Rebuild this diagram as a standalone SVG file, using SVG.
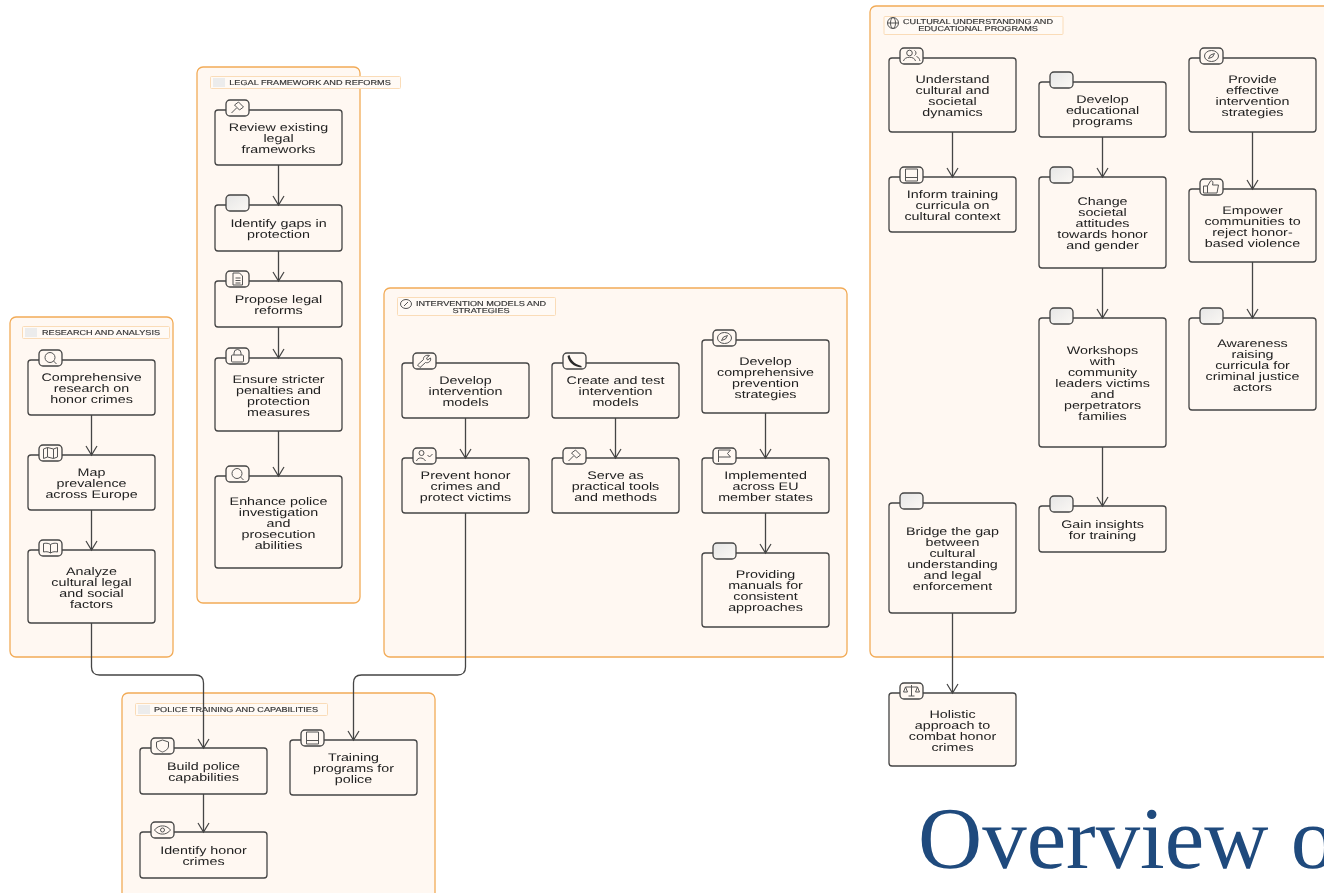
<svg xmlns="http://www.w3.org/2000/svg" width="1324" height="893" viewBox="0 0 1324 893">
<style>
text{text-rendering:geometricPrecision}
.panel{fill:#fff8f2;stroke:#f2ab57;stroke-width:1.3}
.lab{fill:#fffaf5;stroke:#fadcb8;stroke-width:1}
.box{fill:#fff8f2;stroke:#444;stroke-width:1.3}
.tab{fill:#fff8f2;stroke:#444;stroke-width:1.3}
.blank{fill:url(#g);stroke:#444;stroke-width:1.3}
.i{fill:none;stroke:#555;stroke-width:1}
.t{font-family:"Liberation Sans",Arial,sans-serif;font-size:11px;fill:#222;text-anchor:middle}
.l{font-family:"Liberation Sans",Arial,sans-serif;font-size:7.2px;fill:#333;text-anchor:middle;stroke:#333;stroke-width:.15}
.c{fill:none;stroke:#444;stroke-width:1.3}
.title{font-family:"Liberation Serif","Times New Roman",serif;font-size:88px;fill:#1f4a7d}
</style>
<defs>
<filter id="soft" x="0" y="0" width="100%" height="100%" filterUnits="userSpaceOnUse"><feGaussianBlur stdDeviation="0.35"/></filter>
<linearGradient id="g" x1="0" y1="0" x2="1" y2="1"><stop offset="0" stop-color="#e6e6e6"/><stop offset="1" stop-color="#fbf8f4"/></linearGradient>
<marker id="v" markerWidth="14" markerHeight="14" refX="12" refY="7" orient="auto" markerUnits="userSpaceOnUse" viewBox="0 0 14 14"><path d="M3 1.500 L12 7 L3 12.500" fill="none" stroke="#444" stroke-width="1.2"/></marker>
<g id="tab"><rect class="tab" x="-11.500" y="-8" width="23" height="16" rx="4"/></g>
<g id="blank"><rect class="blank" x="-11.500" y="-8" width="23" height="16" rx="4"/></g>
<g id="search"><use href="#tab"/><circle class="i" cx="-0.500" cy="-0.500" r="5"/><path class="i" d="M3 3L6 6"/></g>
<g id="map"><use href="#tab"/><path class="i" d="M-7-4L-3-5.500L3-4L7-5.500V4L3 5.500L-3 4L-7 5.500ZM-3-5.500V4M3-4V5.500"/></g>
<g id="bookopen"><use href="#tab"/><path class="i" d="M0-3.500C-2-5-5-5-7-4.500V4C-5 3.500-2 3.500 0 5C2 3.500 5 3.500 7 4V-4.500C5-5 2-5 0-3.500V5"/></g>
<g id="gavel"><use href="#tab"/><path class="i" d="M-6 5L-1 0M-3-3L1-6L6-1L2 2Z"/></g>
<g id="file"><use href="#tab"/><path class="i" d="M-4.500-6H2L5-3V6H-4.500ZM-2-1H3M-2 1.500H3M-2 4H3"/></g>
<g id="lock"><use href="#tab"/><rect class="i" x="-6" y="-1" width="12" height="7" rx="1"/><path class="i" d="M-3.500-1V-3A3.500 3.500 0 0 1 3.500-3V-1"/></g>
<g id="wrench"><use href="#tab"/><path class="i" d="M-7 4L-1-1.500C-1.500-4 1-6.500 5-5.500L2-3L3-1L6-3C7 0 4 2.500 1 1.500L-4.500 6.500Z"/></g>
<g id="phone"><use href="#tab"/><path d="M-5-6C-4-2-1 3 7 5V6.500C-1 6-6 1-7-5Z" fill="#2a2a2a"/></g>
<g id="compass"><use href="#tab"/><ellipse class="i" cx="0" cy="0" rx="7" ry="5.500"/><path class="i" d="M3-2.500L1 1L-3 2.500L-1-1Z"/></g>
<g id="usercheck"><use href="#tab"/><circle class="i" cx="-3" cy="-3" r="2.500"/><path class="i" d="M-8 5C-7 1-1 1 1 5M3-1L5 1L8-2"/></g>
<g id="flag"><use href="#tab"/><path class="i" d="M-6 6V-6H6L3-2.500L6 1H-6"/></g>
<g id="shield"><use href="#tab"/><path class="i" d="M0-6L6-4V0C6 3 3 5 0 6C-3 5-6 3-6 0V-4Z"/></g>
<g id="book"><use href="#tab"/><path class="i" d="M-6-6H6V6H-6ZM-6 2.500H6"/></g>
<g id="eye"><use href="#tab"/><path class="i" d="M-8 0C-4-5.500 4-5.500 8 0C4 5.500-4 5.500-8 0Z"/><circle class="i" cx="0" cy="0" r="2"/></g>
<g id="users"><use href="#tab"/><circle class="i" cx="-2" cy="-3" r="2.800"/><path class="i" d="M-8 5C-7 0 3 0 4 5M3-5.500A2.800 2.800 0 0 1 3-.5M5 .5C7 1 8 3 8.500 5"/></g>
<g id="thumb"><use href="#tab"/><path class="i" d="M-8-1H-4V6H-8ZM-4-1L-1-6C1-7 2-5 1-2H7L5.500 6H-4"/></g>
<g id="scales"><use href="#tab"/><path class="i" d="M0-6V5M-3 5H3M-6-4H6M-6-4L-8 1H-4ZM6-4L4 1H8Z"/></g>
<g id="globe"><circle class="i" cx="0" cy="0" r="5.500"/><ellipse class="i" cx="0" cy="0" rx="2.500" ry="5.500"/><path class="i" d="M-5.500 0H5.500"/></g>
<g id="sign"><ellipse class="i" cx="0" cy="0" rx="5.500" ry="4.500"/><path class="i" d="M-2 2L2-2"/></g>
</defs>
<g filter="url(#soft)">
<g id="panels">
<g id="group-research"><rect class="panel" x="10" y="317" width="163" height="340" rx="6"/><rect class="lab" x="22.500" y="326.500" width="147" height="12" rx="1"/><rect x="25" y="328" width="12" height="9" fill="#ececec"/><text class="l" transform="translate(101 335.200) scale(1.27 1)">RESEARCH AND ANALYSIS</text></g>
<g id="group-legal"><rect class="panel" x="197" y="67" width="163" height="536" rx="6"/><rect class="lab" x="210.500" y="76.500" width="190" height="12" rx="1"/><rect x="213" y="78" width="12" height="9" fill="#ececec"/><text class="l" transform="translate(310 85.200) scale(1.27 1)">LEGAL FRAMEWORK AND REFORMS</text></g>
<g id="group-intervention"><rect class="panel" x="384" y="288" width="463" height="369" rx="6"/><rect class="lab" x="397.500" y="297.500" width="158" height="18" rx="1"/><use href="#sign" x="406" y="304"/><text class="l" transform="translate(481 306.200) scale(1.27 1)"><tspan x="0">INTERVENTION MODELS AND</tspan><tspan x="0" dy="7.200">STRATEGIES</tspan></text></g>
<g id="group-police"><rect class="panel" x="122" y="693" width="313" height="210" rx="6"/><rect class="lab" x="135.500" y="703.500" width="192" height="12" rx="1"/><rect x="138" y="705" width="12" height="9" fill="#ececec"/><text class="l" transform="translate(236 712.200) scale(1.27 1)">POLICE TRAINING AND CAPABILITIES</text></g>
<g id="group-cultural"><rect class="panel" x="870" y="6" width="470" height="651" rx="6"/><rect class="lab" x="884" y="16.500" width="179" height="18" rx="1"/><use href="#globe" x="893" y="23"/><text class="l" transform="translate(978 24.200) scale(1.27 1)"><tspan x="0">CULTURAL UNDERSTANDING AND</tspan><tspan x="0" dy="7.200">EDUCATIONAL PROGRAMS</tspan></text></g>
</g>

<g id="nodes">
<g id="n1"><rect class="box" x="28" y="360" width="127" height="55" rx="3"/><use href="#search" x="50.500" y="358"/><text class="t" transform="translate(91.500 381) scale(1.3 1)"><tspan x="0">Comprehensive</tspan><tspan x="0" dy="11">research on</tspan><tspan x="0" dy="11">honor crimes</tspan></text></g>
<g id="n2"><rect class="box" x="28" y="455" width="127" height="55" rx="3"/><use href="#map" x="50.500" y="453"/><text class="t" transform="translate(91.500 476) scale(1.3 1)"><tspan x="0">Map</tspan><tspan x="0" dy="11">prevalence</tspan><tspan x="0" dy="11">across Europe</tspan></text></g>
<g id="n3"><rect class="box" x="28" y="550" width="127" height="73" rx="3"/><use href="#bookopen" x="50.500" y="548"/><text class="t" transform="translate(91.500 574.500) scale(1.3 1)"><tspan x="0">Analyze</tspan><tspan x="0" dy="11">cultural legal</tspan><tspan x="0" dy="11">and social</tspan><tspan x="0" dy="11">factors</tspan></text></g>

<g id="n4"><rect class="box" x="215" y="110" width="127" height="55" rx="3"/><use href="#gavel" x="237.500" y="108"/><text class="t" transform="translate(278.500 131) scale(1.3 1)"><tspan x="0">Review existing</tspan><tspan x="0" dy="11">legal</tspan><tspan x="0" dy="11">frameworks</tspan></text></g>
<g id="n5"><rect class="box" x="215" y="205" width="127" height="46" rx="3"/><use href="#blank" x="237.500" y="203"/><text class="t" transform="translate(278.500 227) scale(1.3 1)"><tspan x="0">Identify gaps in</tspan><tspan x="0" dy="11">protection</tspan></text></g>
<g id="n6"><rect class="box" x="215" y="281" width="127" height="46" rx="3"/><use href="#file" x="237.500" y="279"/><text class="t" transform="translate(278.500 303) scale(1.3 1)"><tspan x="0">Propose legal</tspan><tspan x="0" dy="11">reforms</tspan></text></g>
<g id="n7"><rect class="box" x="215" y="358" width="127" height="73" rx="3"/><use href="#lock" x="237.500" y="356"/><text class="t" transform="translate(278.500 382.500) scale(1.3 1)"><tspan x="0">Ensure stricter</tspan><tspan x="0" dy="11">penalties and</tspan><tspan x="0" dy="11">protection</tspan><tspan x="0" dy="11">measures</tspan></text></g>
<g id="n8"><rect class="box" x="215" y="476" width="127" height="92" rx="3"/><use href="#search" x="237.500" y="474"/><text class="t" transform="translate(278.500 504.500) scale(1.3 1)"><tspan x="0">Enhance police</tspan><tspan x="0" dy="11">investigation</tspan><tspan x="0" dy="11">and</tspan><tspan x="0" dy="11">prosecution</tspan><tspan x="0" dy="11">abilities</tspan></text></g>

<g id="n9"><rect class="box" x="402" y="363" width="127" height="55" rx="3"/><use href="#wrench" x="424.500" y="361"/><text class="t" transform="translate(465.500 384) scale(1.3 1)"><tspan x="0">Develop</tspan><tspan x="0" dy="11">intervention</tspan><tspan x="0" dy="11">models</tspan></text></g>
<g id="n10"><rect class="box" x="552" y="363" width="127" height="55" rx="3"/><use href="#phone" x="574.500" y="361"/><text class="t" transform="translate(615.500 384) scale(1.3 1)"><tspan x="0">Create and test</tspan><tspan x="0" dy="11">intervention</tspan><tspan x="0" dy="11">models</tspan></text></g>
<g id="n11"><rect class="box" x="702" y="340" width="127" height="73" rx="3"/><use href="#compass" x="724.500" y="338"/><text class="t" transform="translate(765.500 364.500) scale(1.3 1)"><tspan x="0">Develop</tspan><tspan x="0" dy="11">comprehensive</tspan><tspan x="0" dy="11">prevention</tspan><tspan x="0" dy="11">strategies</tspan></text></g>
<g id="n12"><rect class="box" x="402" y="458" width="127" height="55" rx="3"/><use href="#usercheck" x="424.500" y="456"/><text class="t" transform="translate(465.500 479) scale(1.3 1)"><tspan x="0">Prevent honor</tspan><tspan x="0" dy="11">crimes and</tspan><tspan x="0" dy="11">protect victims</tspan></text></g>
<g id="n13"><rect class="box" x="552" y="458" width="127" height="55" rx="3"/><use href="#gavel" x="574.500" y="456"/><text class="t" transform="translate(615.500 479) scale(1.3 1)"><tspan x="0">Serve as</tspan><tspan x="0" dy="11">practical tools</tspan><tspan x="0" dy="11">and methods</tspan></text></g>
<g id="n14"><rect class="box" x="702" y="458" width="127" height="55" rx="3"/><use href="#flag" x="724.500" y="456"/><text class="t" transform="translate(765.500 479) scale(1.3 1)"><tspan x="0">Implemented</tspan><tspan x="0" dy="11">across EU</tspan><tspan x="0" dy="11">member states</tspan></text></g>
<g id="n15"><rect class="box" x="702" y="553" width="127" height="74" rx="3"/><use href="#blank" x="724.500" y="551"/><text class="t" transform="translate(765.500 578) scale(1.3 1)"><tspan x="0">Providing</tspan><tspan x="0" dy="11">manuals for</tspan><tspan x="0" dy="11">consistent</tspan><tspan x="0" dy="11">approaches</tspan></text></g>

<g id="n16"><rect class="box" x="140" y="748" width="127" height="46" rx="3"/><use href="#shield" x="162.500" y="746"/><text class="t" transform="translate(203.500 770) scale(1.3 1)"><tspan x="0">Build police</tspan><tspan x="0" dy="11">capabilities</tspan></text></g>
<g id="n17"><rect class="box" x="290" y="740" width="127" height="55" rx="3"/><use href="#book" x="312.500" y="738"/><text class="t" transform="translate(353.500 761) scale(1.3 1)"><tspan x="0">Training</tspan><tspan x="0" dy="11">programs for</tspan><tspan x="0" dy="11">police</tspan></text></g>
<g id="n18"><rect class="box" x="140" y="832" width="127" height="46" rx="3"/><use href="#eye" x="162.500" y="830"/><text class="t" transform="translate(203.500 854) scale(1.3 1)"><tspan x="0">Identify honor</tspan><tspan x="0" dy="11">crimes</tspan></text></g>

<g id="n19"><rect class="box" x="889" y="58" width="127" height="74" rx="3"/><use href="#users" x="911.500" y="56"/><text class="t" transform="translate(952.500 83) scale(1.3 1)"><tspan x="0">Understand</tspan><tspan x="0" dy="11">cultural and</tspan><tspan x="0" dy="11">societal</tspan><tspan x="0" dy="11">dynamics</tspan></text></g>
<g id="n20"><rect class="box" x="889" y="177" width="127" height="55" rx="3"/><use href="#book" x="911.500" y="175"/><text class="t" transform="translate(952.500 198) scale(1.3 1)"><tspan x="0">Inform training</tspan><tspan x="0" dy="11">curricula on</tspan><tspan x="0" dy="11">cultural context</tspan></text></g>
<g id="n21"><rect class="box" x="1039" y="82" width="127" height="55" rx="3"/><use href="#blank" x="1061.500" y="80"/><text class="t" transform="translate(1102.500 103) scale(1.3 1)"><tspan x="0">Develop</tspan><tspan x="0" dy="11">educational</tspan><tspan x="0" dy="11">programs</tspan></text></g>
<g id="n22"><rect class="box" x="1039" y="177" width="127" height="91" rx="3"/><use href="#blank" x="1061.500" y="175"/><text class="t" transform="translate(1102.500 205) scale(1.3 1)"><tspan x="0">Change</tspan><tspan x="0" dy="11">societal</tspan><tspan x="0" dy="11">attitudes</tspan><tspan x="0" dy="11">towards honor</tspan><tspan x="0" dy="11">and gender</tspan></text></g>
<g id="n23"><rect class="box" x="1039" y="318" width="127" height="129" rx="3"/><use href="#blank" x="1061.500" y="316"/><text class="t" transform="translate(1102.500 354) scale(1.3 1)"><tspan x="0">Workshops</tspan><tspan x="0" dy="11">with</tspan><tspan x="0" dy="11">community</tspan><tspan x="0" dy="11">leaders victims</tspan><tspan x="0" dy="11">and</tspan><tspan x="0" dy="11">perpetrators</tspan><tspan x="0" dy="11">families</tspan></text></g>
<g id="n24"><rect class="box" x="1039" y="506" width="127" height="46" rx="3"/><use href="#blank" x="1061.500" y="504"/><text class="t" transform="translate(1102.500 528) scale(1.3 1)"><tspan x="0">Gain insights</tspan><tspan x="0" dy="11">for training</tspan></text></g>
<g id="n25"><rect class="box" x="1189" y="58" width="127" height="74" rx="3"/><use href="#compass" x="1211.500" y="56"/><text class="t" transform="translate(1252.500 83) scale(1.3 1)"><tspan x="0">Provide</tspan><tspan x="0" dy="11">effective</tspan><tspan x="0" dy="11">intervention</tspan><tspan x="0" dy="11">strategies</tspan></text></g>
<g id="n26"><rect class="box" x="1189" y="189" width="127" height="73" rx="3"/><use href="#thumb" x="1211.500" y="187"/><text class="t" transform="translate(1252.500 213.500) scale(1.3 1)"><tspan x="0">Empower</tspan><tspan x="0" dy="11">communities to</tspan><tspan x="0" dy="11">reject honor-</tspan><tspan x="0" dy="11">based violence</tspan></text></g>
<g id="n27"><rect class="box" x="1189" y="318" width="127" height="92" rx="3"/><use href="#blank" x="1211.500" y="316"/><text class="t" transform="translate(1252.500 346.500) scale(1.3 1)"><tspan x="0">Awareness</tspan><tspan x="0" dy="11">raising</tspan><tspan x="0" dy="11">curricula for</tspan><tspan x="0" dy="11">criminal justice</tspan><tspan x="0" dy="11">actors</tspan></text></g>
<g id="n28"><rect class="box" x="889" y="503" width="127" height="110" rx="3"/><use href="#blank" x="911.500" y="501"/><text class="t" transform="translate(952.500 535) scale(1.3 1)"><tspan x="0">Bridge the gap</tspan><tspan x="0" dy="11">between</tspan><tspan x="0" dy="11">cultural</tspan><tspan x="0" dy="11">understanding</tspan><tspan x="0" dy="11">and legal</tspan><tspan x="0" dy="11">enforcement</tspan></text></g>
<g id="n29"><rect class="box" x="889" y="693" width="127" height="73" rx="3"/><use href="#scales" x="911.500" y="691"/><text class="t" transform="translate(952.500 717.500) scale(1.3 1)"><tspan x="0">Holistic</tspan><tspan x="0" dy="11">approach to</tspan><tspan x="0" dy="11">combat honor</tspan><tspan x="0" dy="11">crimes</tspan></text></g>
</g>

<g id="connectors">
<path class="c" marker-end="url(#v)" d="M91.500 415V455"/>
<path class="c" marker-end="url(#v)" d="M91.500 510V550"/>
<path class="c" marker-end="url(#v)" d="M91.500 623V667Q91.500 675 99.500 675H195.500Q203.500 675 203.500 683V748"/>
<path class="c" marker-end="url(#v)" d="M278.500 165V205"/>
<path class="c" marker-end="url(#v)" d="M278.500 251V281"/>
<path class="c" marker-end="url(#v)" d="M278.500 327V358"/>
<path class="c" marker-end="url(#v)" d="M278.500 431V476"/>
<path class="c" marker-end="url(#v)" d="M465.500 418V458"/>
<path class="c" marker-end="url(#v)" d="M615.500 418V458"/>
<path class="c" marker-end="url(#v)" d="M765.500 413V458"/>
<path class="c" marker-end="url(#v)" d="M765.500 513V553"/>
<path class="c" marker-end="url(#v)" d="M465.500 513V667Q465.500 675 457.500 675H361.500Q353.500 675 353.500 683V740"/>
<path class="c" marker-end="url(#v)" d="M203.500 794V832"/>
<path class="c" marker-end="url(#v)" d="M952.500 132V177"/>
<path class="c" marker-end="url(#v)" d="M1102.500 137V177"/>
<path class="c" marker-end="url(#v)" d="M1102.500 268V318"/>
<path class="c" marker-end="url(#v)" d="M1102.500 447V506"/>
<path class="c" marker-end="url(#v)" d="M1252.500 132V189"/>
<path class="c" marker-end="url(#v)" d="M1252.500 262V318"/>
<path class="c" marker-end="url(#v)" d="M952.500 613V693"/>
</g>
</g>
<text class="title" transform="translate(918 868) scale(1.01 1)">Overview o</text>
</svg>
